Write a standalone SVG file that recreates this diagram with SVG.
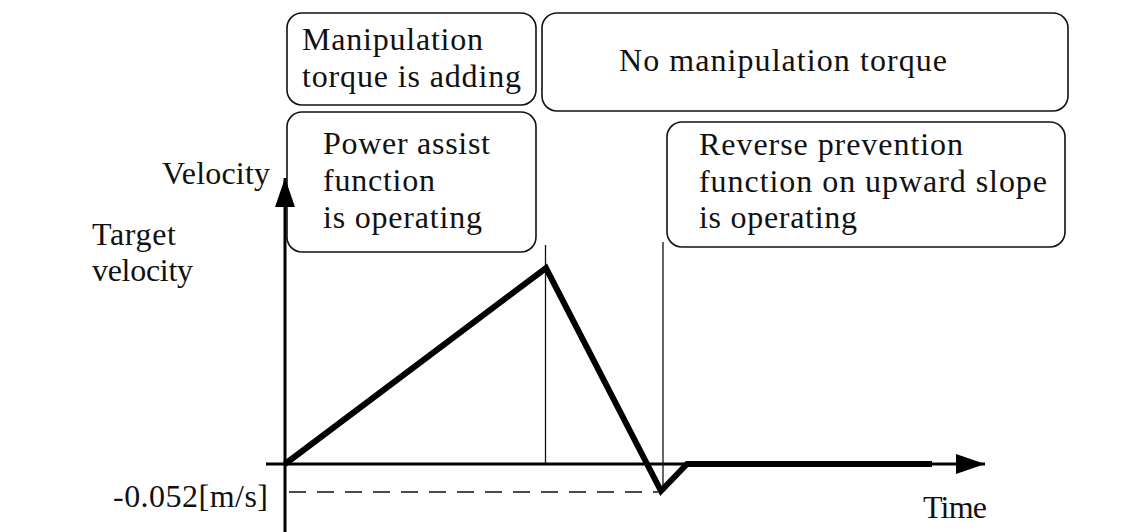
<svg xmlns="http://www.w3.org/2000/svg" width="1140" height="532" viewBox="0 0 1140 532">
<style>
.box{fill:#fff;stroke:#111;stroke-width:1.6}
.t{font-family:"Liberation Serif","Times New Roman",serif;font-size:32px;fill:#111}
.axis{stroke:#000;stroke-width:3;fill:none}
.thin{stroke:#111;stroke-width:1.3;fill:none}
.curve{stroke:#000;stroke-width:6;fill:none;stroke-linejoin:miter}
.dash{stroke:#111;stroke-width:1.3;stroke-dasharray:17 11;fill:none}
</style>
<defs>
<marker id="ah" markerUnits="userSpaceOnUse" markerWidth="30" markerHeight="22" refX="29" refY="10" orient="auto">
<path d="M0,0 L29,10 L0,20 Z" fill="#000"/>
</marker>
</defs>
<rect width="1140" height="532" fill="#fff"/>
<g id="node-manip-adding">
<rect class="box" x="287" y="13" width="249" height="92" rx="15"/>
<text class="t" x="302" y="50" textLength="181" lengthAdjust="spacing">Manipulation</text>
<text class="t" x="302" y="87" textLength="219" lengthAdjust="spacing">torque is adding</text>
</g>
<g id="node-no-manip">
<rect class="box" x="542" y="13" width="526" height="98" rx="15"/>
<text class="t" x="619" y="71" textLength="328" lengthAdjust="spacing">No manipulation torque</text>
</g>
<g id="node-power-assist">
<rect class="box" x="287" y="112" width="249" height="140" rx="15"/>
<text class="t" x="323" y="154" textLength="167" lengthAdjust="spacing">Power assist</text>
<text class="t" x="323" y="191" textLength="112" lengthAdjust="spacing">function</text>
<text class="t" x="323" y="228" textLength="159" lengthAdjust="spacing">is operating</text>
</g>
<g id="node-reverse-prevention">
<rect class="box" x="667" y="122" width="398" height="125" rx="15"/>
<text class="t" x="699" y="155" textLength="264" lengthAdjust="spacing">Reverse prevention</text>
<text class="t" x="699" y="192" textLength="348" lengthAdjust="spacing">function on upward slope</text>
<text class="t" x="699" y="228" textLength="158" lengthAdjust="spacing">is operating</text>
</g>
<g id="labels">
<text class="t" x="162" y="184" textLength="108" lengthAdjust="spacing">Velocity</text>
<text class="t" x="92" y="245" textLength="84" lengthAdjust="spacing">Target</text>
<text class="t" x="92" y="281" textLength="101" lengthAdjust="spacing">velocity</text>
<text class="t" x="113" y="507" textLength="155" lengthAdjust="spacing">-0.052[m/s]</text>
<text class="t" x="923" y="518" textLength="64" lengthAdjust="spacing">Time</text>
</g>
<g id="connectors">
<line class="axis" x1="285" y1="532" x2="285" y2="178" marker-end="url(#ah)"/>
<line class="axis" x1="266" y1="464" x2="985" y2="464" marker-end="url(#ah)"/>
<line class="thin" x1="545.5" y1="245" x2="545.5" y2="464"/>
<line class="thin" x1="663" y1="242" x2="663" y2="490"/>
<line class="dash" x1="289" y1="492" x2="658" y2="492"/>
<polyline class="curve" points="285,464 546,268 661,491 687,464 932,464"/>
</g>
</svg>
